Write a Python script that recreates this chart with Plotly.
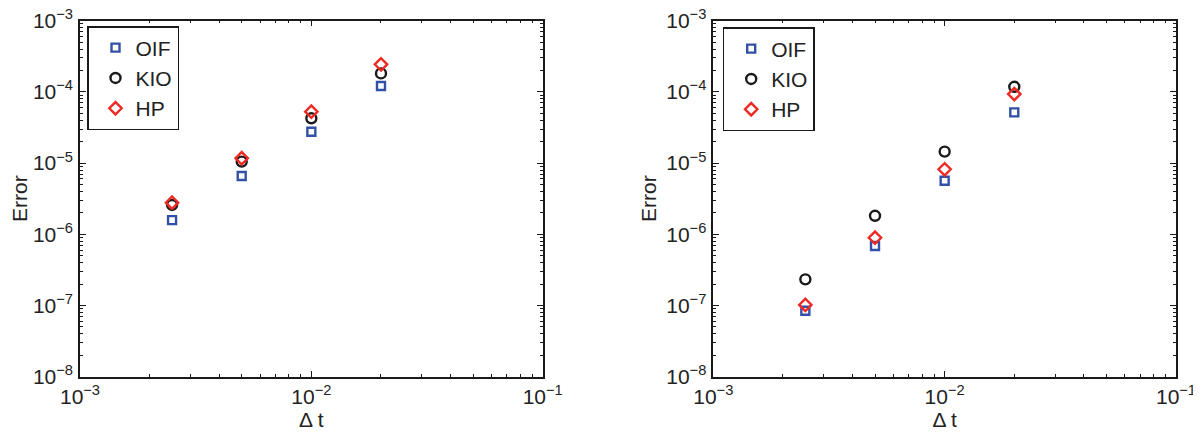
import plotly.graph_objects as go

# ---- data ----
dt = [0.0025, 0.005, 0.01, 0.02]

left_oif = [1.58e-6, 6.6e-6, 2.76e-5, 1.21e-4]
left_kio = [2.58e-6, 1.05e-5, 4.26e-5, 1.82e-4]
left_hp = [2.78e-6, 1.17e-5, 5.27e-5, 2.44e-4]

right_oif = [8.45e-8, 6.86e-7, 5.66e-6, 5.16e-5]
right_kio = [2.33e-7, 1.82e-6, 1.45e-5, 1.18e-4]
right_hp = [1.02e-7, 8.95e-7, 8.19e-6, 9.33e-5]

x_tickvals = [1e-3, 1e-2, 1e-1]
x_ticktext = ["10<sup>−3</sup>", "10<sup>−2</sup>", "10<sup>−1</sup>"]
y_tickvals = [1e-8, 1e-7, 1e-6, 1e-5, 1e-4, 1e-3]
y_ticktext = ["10<sup>−8</sup>", "10<sup>−7</sup>", "10<sup>−6</sup>",
              "10<sup>−5</sup>", "10<sup>−4</sup>", "10<sup>−3</sup>"]

names = ["OIF", "KIO", "HP"]
colors = ["#3350a8", "#1a1a1a", "#ee2a24"]
symbols = ["square-open", "circle-open", "diamond-open"]
sizes = [8, 10, 9.5]

FONT = "Liberation Sans, Arial, Helvetica, sans-serif"
# page body has an 8px margin: work in figure pixels = screen pixels - 8
OFF = 8
W, H = 1201 - OFF, 432 - OFF


def minor_vals(lo, hi):
    out = []
    for e in range(lo, hi):
        for m in range(2, 10):
            out.append(m * 10.0 ** e)
    return out


fig = go.Figure()

panels = [
    (left_oif, left_kio, left_hp, "x", "y", "legend"),
    (right_oif, right_kio, right_hp, "x2", "y2", "legend2"),
]
for oif, kio, hp, xa, ya, lg in panels:
    for name, vals, c, s, sz in zip(names, [oif, kio, hp], colors, symbols, sizes):
        fig.add_trace(go.Scatter(
            x=dt, y=vals, mode="markers", name=name,
            xaxis=xa, yaxis=ya, legend=lg,
            marker=dict(symbol=s, color=c, size=sz, line=dict(width=2.4, color=c)),
        ))

common = dict(
    type="log", showgrid=False, zeroline=False, automargin=False,
    showline=True, linecolor="#1a1a1a", linewidth=1.5, mirror="allticks",
    ticks="inside", ticklen=6, tickwidth=1, tickcolor="#1a1a1a",
    tickfont=dict(family=FONT, size=21, color="#222"),
    ticklabeloverflow="allow",
)


def px_x(v):
    return (v - OFF) / W


def px_y(v):
    return 1 - (v - OFF) / H


xd1 = [px_x(80), px_x(542.7)]
xd2 = [px_x(713.3), px_x(1176)]
yd = [px_y(376.7), px_y(20.7)]

for i, xd in enumerate([xd1, xd2]):
    sfx = "" if i == 0 else str(i + 1)
    fig.update_layout(**{
        "xaxis" + sfx: dict(
            common, domain=xd, anchor="y" + sfx,
            range=[-3, -1], tickvals=x_tickvals, ticktext=x_ticktext,
            minor=dict(tickvals=minor_vals(-3, -1), ticks="inside", ticklen=3,
                       tickcolor="#1a1a1a", showgrid=False),
            title=dict(text="Δ t", font=dict(family=FONT, size=21, color="#222"), standoff=2),
        ),
        "yaxis" + sfx: dict(
            common, domain=yd, anchor="x" + sfx,
            range=[-8, -3], tickvals=y_tickvals, ticktext=y_ticktext,
            minor=dict(tickvals=minor_vals(-8, -3), ticks="inside", ticklen=3,
                       tickcolor="#1a1a1a", showgrid=False),
            ticklabelstandoff=1,
            title=dict(text="Error", font=dict(family=FONT, size=21, color="#222"), standoff=4),
        ),
    })

leg = dict(
    bgcolor="white", bordercolor="#1a1a1a", borderwidth=1.5,
    font=dict(family=FONT, size=21, color="#222"),
    xanchor="left", yanchor="top", tracegroupgap=0, itemwidth=30,
    indentation=7,
)
fig.update_layout(
    width=W, height=H,
    margin=dict(l=0, r=0, t=0, b=0),
    paper_bgcolor="white", plot_bgcolor="white",
    showlegend=True,
    legend=dict(leg, x=px_x(87), y=px_y(26)),
    legend2=dict(leg, x=px_x(722.7), y=px_y(27)),
)

fig.write_html("out.html")
